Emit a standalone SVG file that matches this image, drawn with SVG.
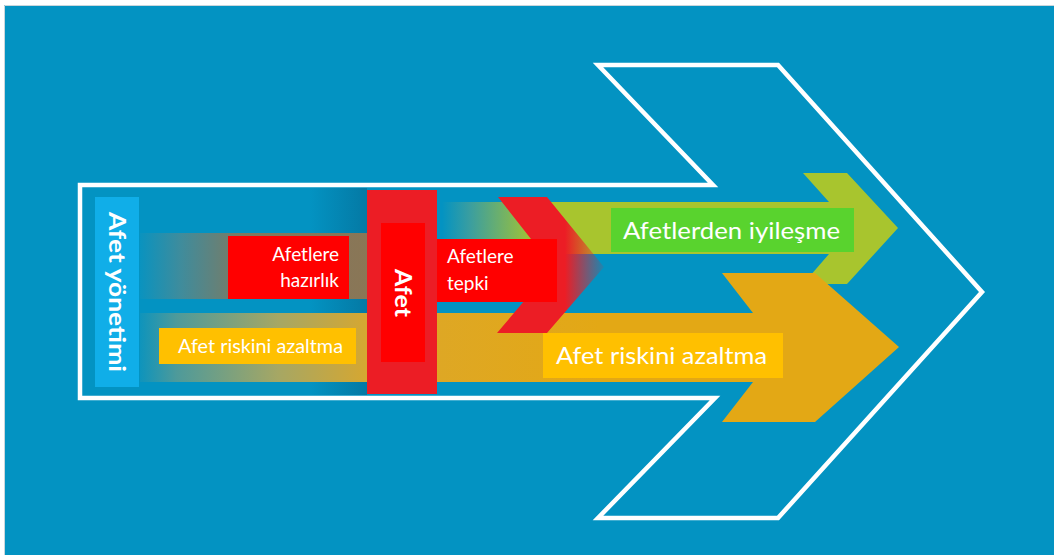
<svg xmlns="http://www.w3.org/2000/svg" width="1054" height="555" viewBox="0 0 1054 555">
<style>
.t{font-family:Lato,"Open Sans","Liberation Sans",sans-serif;fill:#fff}
.b{font-weight:bold}
</style>
<defs>
<linearGradient id="gUp" gradientUnits="userSpaceOnUse" x1="140" y1="0" x2="367" y2="0">
<stop offset="0" stop-color="#0A93BF"/><stop offset="0.18" stop-color="#3F8C9C"/><stop offset="0.45" stop-color="#7D7A62"/><stop offset="1" stop-color="#8A7656"/>
</linearGradient>
<linearGradient id="gOr" gradientUnits="userSpaceOnUse" x1="140" y1="0" x2="600" y2="0">
<stop offset="0" stop-color="#0E94BC"/><stop offset="0.08" stop-color="#4E9A9A"/><stop offset="0.3" stop-color="#A6A764"/><stop offset="0.52" stop-color="#DCA72A"/><stop offset="1" stop-color="#E3A815"/>
</linearGradient>
<linearGradient id="gGr" gradientUnits="userSpaceOnUse" x1="442" y1="0" x2="535" y2="0">
<stop offset="0" stop-color="#0393C2"/><stop offset="0.3" stop-color="#3A9EA0"/><stop offset="1" stop-color="#A8C52E"/>
</linearGradient>
<linearGradient id="gRd" gradientUnits="userSpaceOnUse" x1="565" y1="0" x2="604" y2="0">
<stop offset="0" stop-color="#EC1D25"/><stop offset="1" stop-color="#EC1D25" stop-opacity="0.1"/>
</linearGradient>
<linearGradient id="gSh" gradientUnits="userSpaceOnUse" x1="310" y1="0" x2="367" y2="0">
<stop offset="0" stop-color="#055F86" stop-opacity="0"/><stop offset="1" stop-color="#055F86" stop-opacity="0.5"/>
</linearGradient>
</defs>
<rect x="0" y="0" width="1054" height="555" fill="#fff"/>
<rect x="4" y="5" width="1050" height="550" fill="#0393C2"/>
<path d="M4.5 555V5.5H1054" fill="none" stroke="#C9D6DC" stroke-width="1"/>

<g id="outline">
<path d="M80 185H713L598 65H778L982 292L778 518H598L715 398H80Z" fill="none" stroke="#fff" stroke-width="4.5" stroke-linejoin="miter"/>
</g>

<g id="connectors">
<rect x="310" y="188" width="57" height="207" fill="url(#gSh)"/>
<rect x="140" y="233" width="230" height="66" fill="url(#gUp)"/>
<path d="M442 202H829L803 173H847L898 228L847 284H803L829 254H442Z" fill="url(#gGr)"/>
<path d="M140 313H753L722 273H815L899 347L815 422H722L753 382H140Z" fill="url(#gOr)"/>
<path d="M498 197H547L604 267L547 333H497L553 267Z" fill="url(#gRd)"/>
</g>

<g id="afet-yonetimi">
<rect x="95" y="197" width="44" height="190" fill="#10AEE8"/>
<text class="t b" font-size="23" transform="translate(109 292) rotate(90)" text-anchor="middle" textLength="160" lengthAdjust="spacingAndGlyphs">Afet yönetimi</text>
</g>

<g id="afetlere-hazirlik">
<rect x="228" y="236" width="121" height="63" fill="#FF0000"/>
<text class="t" font-size="19" text-anchor="end"><tspan x="339" y="261">Afetlere</tspan><tspan x="339" y="287">hazırlık</tspan></text>
</g>

<g id="afet-riskini-azaltma-sol">
<rect x="159" y="328" width="197" height="36" fill="#FFC000"/>
<text class="t" x="178" y="353" font-size="19" textLength="165" lengthAdjust="spacingAndGlyphs">Afet riskini azaltma</text>
</g>

<g id="afet">
<rect x="367" y="190" width="70" height="204" fill="#EC1D25"/>
<rect x="381" y="223" width="44" height="139" fill="#FF0000"/>
<text class="t b" font-size="23" transform="translate(395 293) rotate(90)" text-anchor="middle" textLength="48" lengthAdjust="spacingAndGlyphs">Afet</text>
</g>

<g id="afetlere-tepki">
<rect x="437" y="239" width="120" height="63" fill="#FF0000"/>
<text class="t" font-size="19"><tspan x="447" y="263">Afetlere</tspan><tspan x="447" y="290">tepki</tspan></text>
</g>

<g id="afetlerden-iyilesme">
<rect x="611" y="208" width="243" height="44" fill="#59D32E"/>
<text class="t" x="623" y="239" font-size="24" textLength="217" lengthAdjust="spacingAndGlyphs">Afetlerden iyileşme</text>
</g>

<g id="afet-riskini-azaltma-sag">
<rect x="543" y="333" width="240" height="45" fill="#FFC000"/>
<text class="t" x="556" y="364" font-size="24" textLength="211" lengthAdjust="spacingAndGlyphs">Afet riskini azaltma</text>
</g>
</svg>
